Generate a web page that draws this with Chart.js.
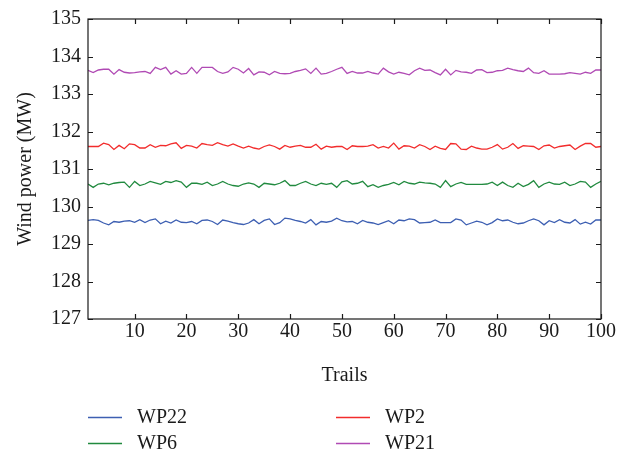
<!DOCTYPE html>
<html>
<head>
<meta charset="utf-8">
<script src="https://cdn.jsdelivr.net/npm/chart.js@4/dist/chart.umd.min.js"></script>
<style>
html,body{margin:0;padding:0;background:#fff;}
#wrap{width:627px;height:456px;}
</style>
</head>
<body>
<div id="wrap"><canvas id="c" width="627" height="456"></canvas></div>
<script>
const trails = Array.from({length: 100}, (_, i) => i + 1);
const xTickValues = [10, 20, 30, 40, 50, 60, 70, 80, 90, 100];
const yTickValues = [127, 128, 129, 130, 131, 132, 133, 134, 135];

const wp22 = [129.63,129.65,129.63,129.56,129.51,129.60,129.58,129.61,129.62,129.58,
129.65,129.57,129.64,129.67,129.54,129.61,129.56,129.64,129.58,129.57,
129.60,129.54,129.63,129.64,129.60,129.52,129.64,129.61,129.57,129.54,
129.52,129.56,129.65,129.54,129.63,129.67,129.52,129.57,129.69,129.67,
129.63,129.60,129.56,129.65,129.51,129.60,129.58,129.61,129.69,129.62,
129.59,129.60,129.54,129.63,129.58,129.56,129.52,129.57,129.62,129.54,
129.64,129.62,129.67,129.65,129.56,129.57,129.58,129.64,129.57,129.57,
129.57,129.67,129.64,129.51,129.56,129.61,129.58,129.51,129.57,129.67,
129.62,129.64,129.58,129.54,129.56,129.62,129.67,129.62,129.51,129.62,
129.57,129.65,129.58,129.56,129.65,129.53,129.58,129.53,129.64,129.64];

const wp2 = [131.60,131.60,131.60,131.69,131.65,131.52,131.63,131.54,131.67,131.65,
131.56,131.56,131.65,131.58,131.63,131.62,131.67,131.70,131.55,131.63,
131.61,131.56,131.68,131.65,131.63,131.70,131.65,131.61,131.67,131.61,
131.56,131.61,131.56,131.53,131.60,131.64,131.60,131.53,131.63,131.58,
131.61,131.63,131.58,131.58,131.66,131.53,131.61,131.58,131.60,131.60,
131.52,131.62,131.60,131.60,131.61,131.65,131.56,131.60,131.56,131.69,
131.53,131.62,131.61,131.56,131.65,131.60,131.52,131.61,131.55,131.52,
131.68,131.67,131.53,131.52,131.61,131.56,131.53,131.53,131.58,131.65,
131.53,131.58,131.68,131.55,131.62,131.61,131.60,131.52,131.62,131.64,
131.56,131.60,131.62,131.64,131.52,131.61,131.68,131.68,131.58,131.60];

const wp6 = [130.60,130.51,130.60,130.62,130.58,130.62,130.64,130.65,130.51,130.67,
130.56,130.60,130.67,130.63,130.59,130.67,130.64,130.69,130.65,130.51,
130.62,130.62,130.59,130.65,130.56,130.60,130.67,130.60,130.56,130.54,
130.60,130.63,130.60,130.51,130.62,130.60,130.58,130.62,130.69,130.56,
130.56,130.62,130.67,130.60,130.56,130.62,130.59,130.62,130.51,130.66,
130.69,130.60,130.62,130.67,130.53,130.58,130.51,130.56,130.59,130.64,
130.58,130.67,130.62,130.60,130.65,130.63,130.62,130.60,130.51,130.69,
130.53,130.60,130.64,130.59,130.59,130.59,130.59,130.60,130.65,130.56,
130.65,130.56,130.51,130.62,130.53,130.59,130.69,130.51,130.60,130.65,
130.60,130.59,130.65,130.56,130.60,130.67,130.65,130.51,130.60,130.67];

const wp21 = [133.63,133.57,133.64,133.66,133.66,133.53,133.65,133.58,133.56,133.57,
133.59,133.60,133.55,133.71,133.65,133.71,133.53,133.62,133.53,133.55,
133.71,133.55,133.71,133.71,133.71,133.60,133.55,133.59,133.71,133.66,
133.56,133.68,133.51,133.59,133.58,133.51,133.60,133.55,133.54,133.55,
133.60,133.63,133.67,133.55,133.69,133.53,133.55,133.60,133.66,133.71,
133.55,133.60,133.56,133.56,133.60,133.56,133.53,133.69,133.59,133.53,
133.58,133.55,133.51,133.62,133.69,133.63,133.64,133.57,133.51,133.66,
133.51,133.63,133.59,133.58,133.55,133.64,133.65,133.57,133.58,133.62,
133.63,133.69,133.65,133.62,133.60,133.69,133.57,133.55,133.62,133.53,
133.53,133.53,133.54,133.57,133.55,133.53,133.58,133.55,133.64,133.64];

const seriesNames = ['WP22', 'WP2', 'WP6', 'WP21'];
const seriesColors = ['#3d5fb2', '#f22c2c', '#218a3f', '#b04ab4'];
const seriesValues = [wp22, wp2, wp6, wp21];

const FONT = "'Liberation Serif', 'DejaVu Serif', serif";

const framePlugin = {
  id: 'frame',
  afterDatasetsDraw(chart) {
    const {ctx, chartArea: a, scales: {x, y}} = chart;
    ctx.save();
    ctx.strokeStyle = '#1a1a1a';
    ctx.lineWidth = 1.2;
    ctx.strokeRect(a.left, a.top, a.right - a.left, a.bottom - a.top);
    const L = 5;
    ctx.beginPath();
    xTickValues.forEach(v => {
      const px = Math.round(x.getPixelForValue(v)) + 0.5;
      ctx.moveTo(px, a.bottom); ctx.lineTo(px, a.bottom - L);
      ctx.moveTo(px, a.top); ctx.lineTo(px, a.top + L);
    });
    yTickValues.forEach(v => {
      const py = Math.round(y.getPixelForValue(v)) + 0.5;
      ctx.moveTo(a.left, py); ctx.lineTo(a.left + L, py);
      ctx.moveTo(a.right, py); ctx.lineTo(a.right - L, py);
    });
    ctx.stroke();
    ctx.restore();
  }
};

const legendPlugin = {
  id: 'customLegend',
  afterDraw(chart) {
    const {ctx} = chart;
    const slots = [[88, 417], [336, 417], [88, 443], [336, 443]];
    ctx.save();
    ctx.font = "20px " + FONT;
    ctx.textBaseline = 'middle';
    ctx.textAlign = 'left';
    chart.data.datasets.forEach((ds, i) => {
      const [lx, ly] = slots[i];
      ctx.strokeStyle = ds.borderColor;
      ctx.lineWidth = 1.3;
      ctx.beginPath();
      ctx.moveTo(lx, ly + 0.5); ctx.lineTo(lx + 34, ly + 0.5);
      ctx.stroke();
      ctx.fillStyle = '#1a1a1a';
      ctx.fillText(ds.label, lx + 49, ly + 1);
    });
    ctx.restore();
  }
};

new Chart(document.getElementById('c'), {
  type: 'line',
  data: {
    datasets: seriesNames.map((n, i) => ({
      label: n,
      data: trails.map((t, k) => ({x: t, y: seriesValues[i][k]})),
      borderColor: seriesColors[i],
      backgroundColor: seriesColors[i],
      borderWidth: 1.3,
      pointRadius: 0,
      tension: 0,
      fill: false
    }))
  },
  options: {
    responsive: false,
    animation: false,
    devicePixelRatio: 1,
    layout: {padding: {left: 0, right: 26, top: 18, bottom: 68}},
    plugins: {legend: {display: false}, tooltip: {enabled: false}},
    scales: {
      x: {
        type: 'linear',
        min: 1, max: 100,
        afterBuildTicks: s => { s.ticks = xTickValues.map(v => ({value: v})); },
        afterFit: s => { s.height = 69; },
        grid: {display: false, drawTicks: false},
        border: {display: false},
        ticks: {color: '#1a1a1a', font: {family: FONT, size: 20}, padding: 1, maxRotation: 0, autoSkip: false},
        title: {display: true, text: 'Trails', color: '#1a1a1a', font: {family: FONT, size: 20}, padding: {top: 0, bottom: 0}}
      },
      y: {
        min: 127, max: 135,
        afterBuildTicks: s => { s.ticks = yTickValues.map(v => ({value: v})); },
        afterFit: s => { s.width = 88; },
        grid: {display: false, drawTicks: false},
        border: {display: false},
        ticks: {color: '#1a1a1a', font: {family: FONT, size: 20}, padding: 7},
        title: {display: true, text: 'Wind power (MW)', color: '#1a1a1a', font: {family: FONT, size: 20}, padding: {top: 14, bottom: 0}}
      }
    }
  },
  plugins: [framePlugin, legendPlugin]
});
</script>
</body>
</html>
